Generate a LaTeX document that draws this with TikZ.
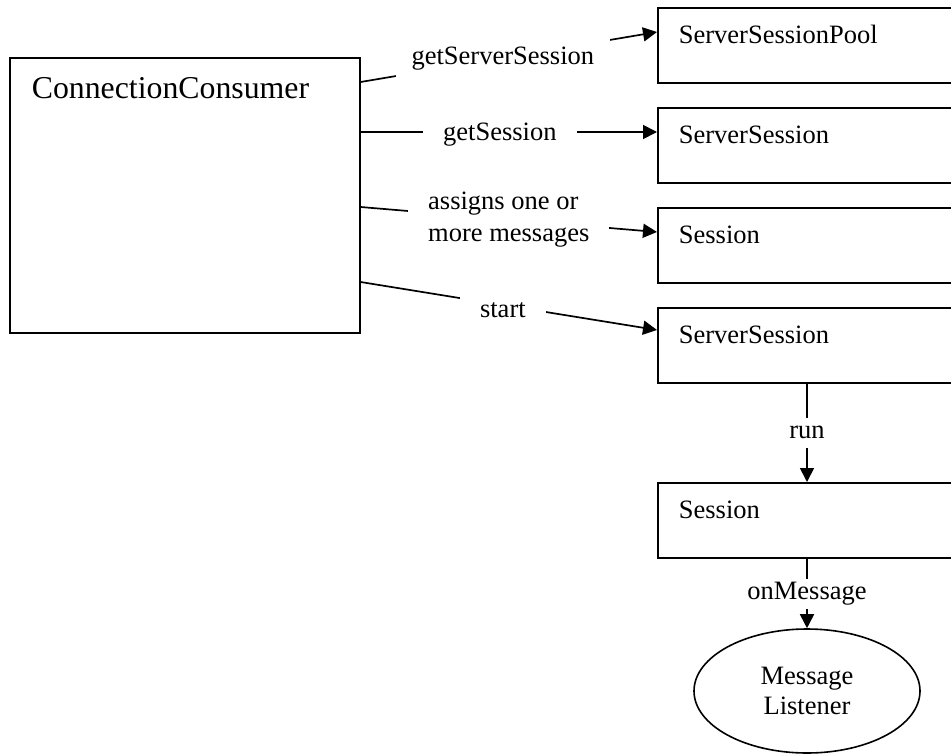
\documentclass[tikz,border=0pt]{standalone}
\usepackage{fontspec}
\setmainfont{Liberation Serif}
\usetikzlibrary{shapes.geometric, arrows.meta}
\tikzstyle{consumer} = [rectangle, draw=black, line width=1.6pt, anchor=north west, inner xsep=22pt, inner ysep=0pt, text width=306pt, text height=41pt, text depth=234pt, align=left, font=\fontsize{31.8}{38}\selectfont]
\tikzstyle{box} = [rectangle, draw=black, line width=1.8pt, anchor=north west, inner xsep=21pt, inner ysep=0pt, text width=300pt, text height=36pt, text depth=39pt, align=left]
\tikzstyle{listener} = [ellipse, draw=black, line width=1.6pt, minimum width=226pt, minimum height=124pt, inner sep=0pt, align=center, font=\fontsize{26.5}{30}\selectfont]
\tikzstyle{arrow} = [line width=1.7pt, -{Triangle[length=14pt,width=14pt]}]
\tikzstyle{lbl} = [fill=white, inner xsep=20pt, inner ysep=4pt]
\tikzstyle{vlbl} = [fill=white, inner xsep=4pt, inner ysep=3pt, text height=18pt, text depth=6pt]

\begin{document}
\begin{tikzpicture}[x=1pt, y=-1pt, font=\fontsize{26.5}{32}\selectfont]
    \useasboundingbox (0,0) rectangle (951,755);
    \clip (0,0) rectangle (951,755);
    \node (cc) [consumer] at (9,57) {ConnectionConsumer};
    \node (pool) [box] at (657,7) {ServerSessionPool};
    \node (ss1) [box] at (657,107) {ServerSession};
    \node (sess1) [box] at (657,207) {Session};
    \node (ss2) [box] at (657,307) {ServerSession};
    \node (sess2) [box] at (657,482) {Session};
    \node (lis) [listener] at (807,691) {Message\\Listener};

    \draw [arrow] ([yshift=-25pt]cc.north east) -- node[lbl, pos=0.48, inner ysep=11pt, inner xsep=16pt, yshift=-1pt] {getServerSession} ([yshift=-25pt]pool.north west);
    \draw [arrow] ([yshift=-75pt]cc.north east) -- node[lbl, pos=0.47, yshift=-3pt] {getSession} ([yshift=-25pt]ss1.north west);
    \draw [arrow] ([yshift=-150pt]cc.north east) -- node[lbl, align=left] {assigns one or\\more messages} ([yshift=-25pt]sess1.north west);
    \draw [arrow] ([yshift=-225pt]cc.north east) -- node[lbl, pos=0.48, yshift=-5pt, inner ysep=7pt] {start} ([yshift=-23pt]ss2.north west);
    \draw [arrow] (ss2.south -| lis.north) -- node[vlbl] {run} (sess2.north -| lis.north);
    \draw [arrow] (sess2.south -| lis.north) -- node[vlbl] {onMessage} (lis.north);

\end{tikzpicture}
\end{document}
